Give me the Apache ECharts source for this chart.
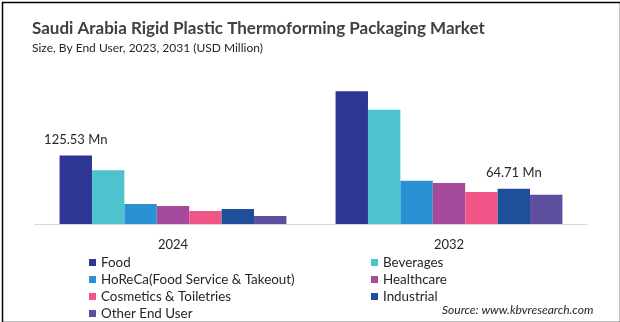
<!DOCTYPE html>
<html>
<head>
<meta charset="utf-8">
<script src="https://cdn.jsdelivr.net/npm/echarts@6/dist/echarts.min.js"></script>
<style>
  html, body { margin: 0; padding: 0; background: #fff; }
  #chart { width: 620px; height: 322px; }
</style>
</head>
<body>
<div id="chart"></div>
<script>
// Market size by end user, USD million
const years = ['2024', '2032'];
const segments = ['Food', 'Beverages', 'HoReCa(Food Service & Takeout)', 'Healthcare',
                  'Cosmetics & Toiletries', 'Industrial', 'Other End User'];
const food        = [125.53, 243.0];
const beverages   = [98.5, 209.0];
const horeca      = [36.5, 79.0];
const healthcare  = [33.0, 75.0];
const cosmetics   = [24.0, 58.5];
const industrial  = [27.5, 64.71];
const otherUser   = [14.5, 53.5];

const seriesValues = [food, beverages, horeca, healthcare, cosmetics, industrial, otherUser];
const colors = ['#2E3592', '#4EC3CE', '#2A92D3', '#A64A9C', '#EF5587', '#1F4E9A', '#5E4FA1'];

// which bar carries a value label: [series index, category index]
const labelled = [[0, 0], [5, 1]];

const font = 'Lato, "Open Sans", sans-serif';

const series = segments.map((name, si) => ({
  name: name,
  type: 'bar',
  barGap: 0,
  barCategoryGap: '17.8%',
  itemStyle: { color: colors[si] },
  data: seriesValues[si].map((v, ci) => {
    const show = labelled.some(p => p[0] === si && p[1] === ci);
    return {
      value: v,
      label: {
        show: show,
        position: 'top',
        distance: 9,
        formatter: '{c} Mn',
        color: '#262626',
        fontSize: 13,
        fontFamily: font
      }
    };
  })
}));

const legendText = { color: '#262626', fontSize: 13.4, fontFamily: font, lineHeight: 13 };

const chart = echarts.init(document.getElementById('chart'), null, { renderer: 'canvas' });
chart.setOption({
  animation: false,
  title: [
    { text: 'Saudi Arabia Rigid Plastic Thermoforming Packaging Market', left: 27, top: 15,
      textStyle: { fontSize: 17, fontWeight: 'bold', color: '#404040', fontFamily: font } },
    { text: 'Size, By End User, 2023, 2031 (USD Million)', left: 27, top: 37,
      textStyle: { fontSize: 12, fontWeight: 'normal', color: '#262626', fontFamily: font } }
  ],
  legend: [
    { orient: 'vertical', left: 89, top: 256, padding: 0, itemWidth: 7, itemHeight: 7, itemGap: 4,
      height: 70, icon: 'rect', textStyle: legendText, selectedMode: false,
      data: [segments[0], segments[2], segments[4], segments[6]] },
    { orient: 'vertical', left: 371, top: 256, padding: 0, itemWidth: 7, itemHeight: 7, itemGap: 4,
      height: 70, icon: 'rect', textStyle: legendText, selectedMode: false,
      data: [segments[1], segments[3], segments[5]] }
  ],
  graphic: [
    { type: 'text', left: 442, top: 304,
      style: { text: 'Source: www.kbvresearch.com', fontSize: 12, fontStyle: 'italic',
               fill: '#262626', fontFamily: font } },
    // outer frame
    { type: 'rect', left: 0, top: 0, silent: true,
      shape: { x: 0.5, y: 0.5, width: 618, height: 320 },
      style: { fill: 'none', stroke: '#000', lineWidth: 1.5 } }
  ],
  grid: { left: 35, top: 60, width: 552, height: 164, containLabel: false },
  xAxis: {
    type: 'category',
    data: years,
    axisLine: { lineStyle: { color: '#d9d9d9', width: 1 } },
    axisTick: { show: false },
    axisLabel: { color: '#262626', fontSize: 13, fontFamily: font, margin: 14 }
  },
  yAxis: {
    type: 'value', min: 0, max: 300,
    show: false, splitLine: { show: false }
  },
  series: series
});
</script>
</body>
</html>
